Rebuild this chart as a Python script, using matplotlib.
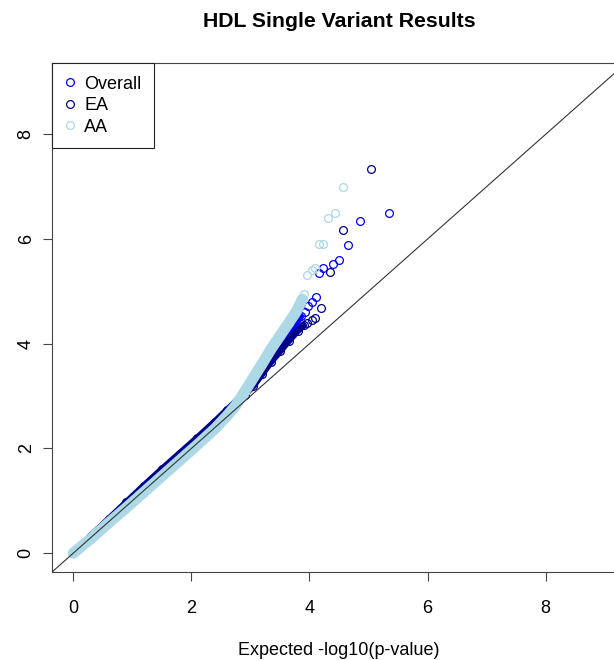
import matplotlib
matplotlib.use('Agg')
from matplotlib import pyplot as plt
from matplotlib.lines import Line2D

plt.rcParams['font.family'] = ['Liberation Sans', 'DejaVu Sans']

## 数据: 期望 -log10(p) 和 观察 -log10(p)
## Overall
all_bulk_x = [0.0, 0.3, 0.6, 0.9, 1.2, 1.5, 1.8, 2.1, 2.4, 2.6, 2.8, 3.0, 3.2, 3.4, 3.6, 3.75, 3.85]
all_bulk_y = [0.01, 0.31, 0.62, 0.94, 1.26, 1.57, 1.87, 2.17, 2.48, 2.71, 2.95, 3.2, 3.5, 3.8, 4.1, 4.35, 4.52]
all_tail_x = [3.92, 3.98, 4.05, 4.11, 4.16, 4.23, 4.40, 4.50, 4.65, 4.86, 5.35]
all_tail_y = [4.60, 4.72, 4.80, 4.89, 5.35, 5.44, 5.52, 5.59, 5.88, 6.34, 6.49]

## EA
ea_bulk_x = [0.0, 0.3, 0.6, 0.9, 1.2, 1.5, 1.8, 2.1, 2.4, 2.6, 2.75, 2.9, 3.05, 3.2, 3.35, 3.5, 3.65, 3.8, 3.9]
ea_bulk_y = [0.01, 0.33, 0.65, 0.97, 1.29, 1.6, 1.9, 2.2, 2.51, 2.73, 2.88, 3.03, 3.2, 3.43, 3.66, 3.86, 4.06, 4.25, 4.35]
ea_tail_x = [3.96, 4.04, 4.09, 4.20, 4.35, 4.57, 5.04]
ea_tail_y = [4.39, 4.45, 4.49, 4.68, 5.37, 6.17, 7.33]

## AA
aa_bulk_x = [0.0, 0.3, 0.6, 0.9, 1.2, 1.5, 1.8, 2.1, 2.4, 2.6, 2.75, 2.9, 3.05, 3.2, 3.35, 3.5, 3.65, 3.78, 3.88]
aa_bulk_y = [0.0, 0.28, 0.58, 0.87, 1.17, 1.47, 1.77, 2.07, 2.38, 2.62, 2.82, 3.08, 3.35, 3.62, 3.9, 4.15, 4.4, 4.62, 4.85]
aa_tail_x = [3.90, 3.96, 4.04, 4.09, 4.16, 4.23, 4.31, 4.43, 4.57]
aa_tail_y = [4.95, 5.31, 5.40, 5.44, 5.90, 5.90, 6.41, 6.49, 6.99]

labels = ['Overall', 'EA', 'AA']
colors = ['#0000FF', '#00008B', '#ADD8E6']

## 绘制图像
fig = plt.figure(dpi=100, figsize=(6.14, 6.6))
ax = fig.add_axes([0.0847, 0.1333, 0.9349, 0.7712])

series = [
    (all_bulk_x, all_bulk_y, all_tail_x, all_tail_y),
    (ea_bulk_x, ea_bulk_y, ea_tail_x, ea_tail_y),
    (aa_bulk_x, aa_bulk_y, aa_tail_x, aa_tail_y),
]
band_w = [5.0, 5.0, 8.0]  ## 点太密了, 用粗线画成一条带
for (bx, by, tx, ty), c, w in zip(series, colors, band_w):
    ax.plot(bx, by, '-', color=c, lw=w, solid_capstyle='round', solid_joinstyle='round')
    ax.plot(bx, by, 'o', mfc='none', mec=c, ms=5.6, mew=0.9)
    ax.plot(tx, ty, 'o', mfc='none', mec=c, ms=5.6, mew=0.9)

ax.axline((0, 0), slope=1, color='#333333', lw=0.8, zorder=5)

ax.set_xlim(-0.36, 9.36)
ax.set_ylim(-0.36, 9.36)
ax.set_xticks([0, 2, 4, 6, 8])
ax.set_yticks([0, 2, 4, 6, 8])
ax.tick_params(axis='x', length=6.5, width=0.8, pad=14, labelsize=13, color='#444444')
ax.tick_params(axis='y', length=6.5, width=0.8, pad=6, labelsize=13, color='#444444')
for lab in ax.get_yticklabels():
    lab.set_rotation(90)
    lab.set_va('center')
for sp in ax.spines.values():
    sp.set_color('#444444')
    sp.set_linewidth(0.8)

ax.set_xlabel('Expected -log10(p-value)', fontsize=13, labelpad=18)
ax.set_title('HDL Single Variant Results', fontsize=15.3, fontweight='bold', pad=26)

handles = [Line2D([], [], ls='none', marker='o', mfc='none', mec=c, ms=5.6, mew=0.9) for c in colors]
leg = ax.legend(handles, labels, loc='upper left', bbox_to_anchor=(0, 1), borderaxespad=0,
                fontsize=13, handlelength=0.6, handletextpad=0.48, borderpad=0.7,
                labelspacing=0.25, fancybox=False, framealpha=1, edgecolor='#222222')
leg.get_frame().set_linewidth(0.8)

fig.savefig('out.png')
